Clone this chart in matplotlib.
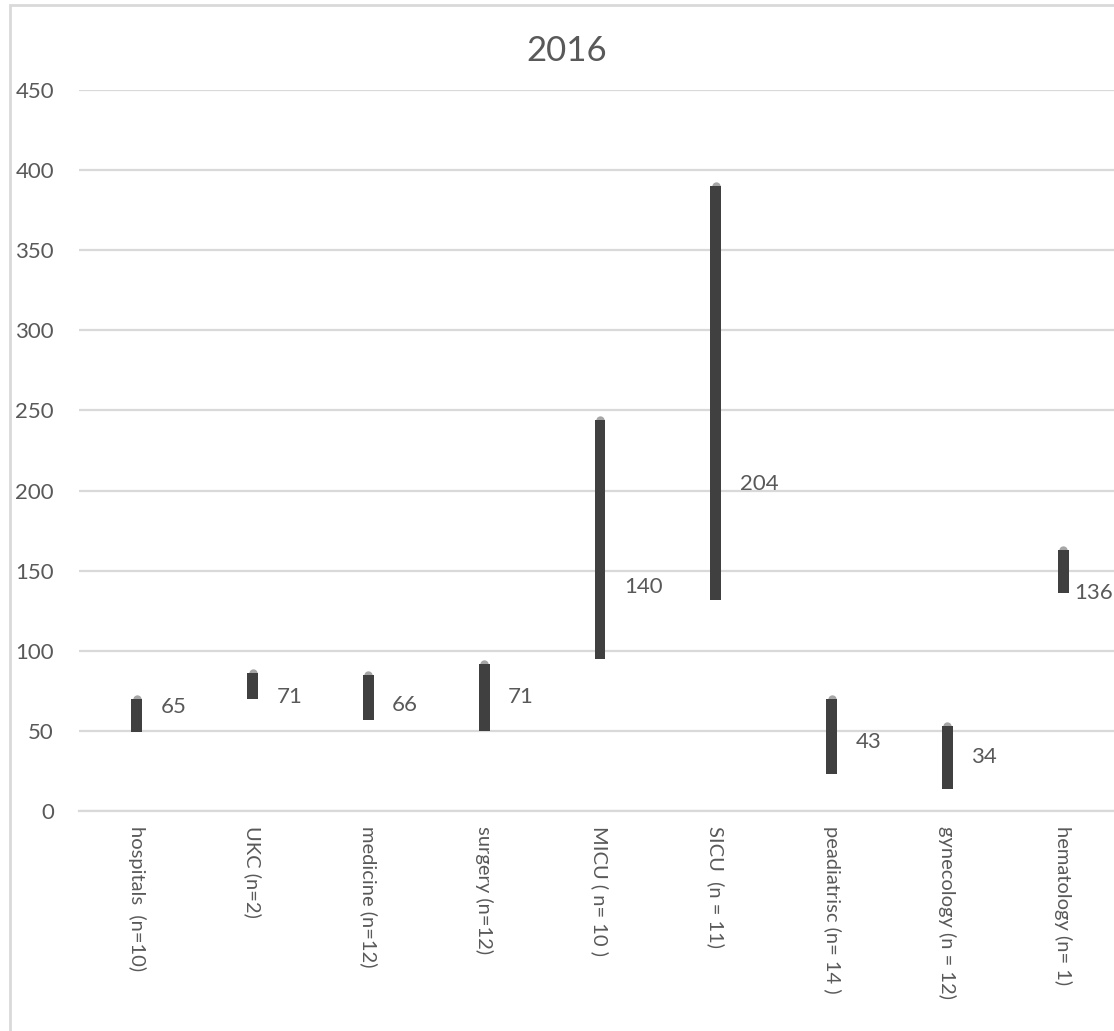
import matplotlib
matplotlib.use("Agg")
import matplotlib.pyplot as plt
from matplotlib.patches import Rectangle

categories = ["hospitals  (n=10)", "UKC (n=2)", "medicine (n=12)", "surgery (n=12)",
              "MICU ( n= 10 )", "SICU  (n = 11)", "peadiatrisc (n= 14 )",
              "gynecology (n = 12)", "hematology (n= 1)"]
low_values = [49, 70, 57, 50, 95, 132, 23, 14, 136]
high_values = [70, 86, 85, 92, 244, 390, 70, 53, 163]
label_values = [65, 71, 66, 71, 140, 204, 43, 34, 136]
y_ticks = [0, 50, 100, 150, 200, 250, 300, 350, 400, 450]
title = "2016"

plt.rcParams['font.family'] = ['Lato', 'DejaVu Sans']
text_color = '#595959'
grid_color = '#d9d9d9'

W, H = 1114, 1031
fig = plt.figure(figsize=(W / 100, H / 100), dpi=100)
fig.patch.set_facecolor('white')

# outer chart border (cropped on right and bottom)
fig.patches.append(Rectangle((10 / W, -0.2), 1.2, 1.2 - 5 / H,
                             transform=fig.transFigure, fill=False,
                             edgecolor=grid_color, linewidth=2))

ax = fig.add_axes([79 / W, (H - 811) / H, 1042 / W, 721 / H])
x = list(range(len(categories)))
heights = [h - l for h, l in zip(high_values, low_values)]
ax.bar(x, heights, bottom=low_values, width=0.095, color='#404040', zorder=3)
ax.plot(x, high_values, linestyle='none', marker='o', markersize=6,
        markeredgewidth=0, color='#a6a6a6', zorder=2.9)

for i, v in enumerate(label_values):
    dx = 0.205 if i < len(categories) - 1 else 0.095
    ax.text(i + dx, v, str(v), ha='left', va='center', fontsize=16,
            color=text_color, zorder=5)

ax.set_xlim(-0.5, len(categories) - 0.5)
ax.set_ylim(0, 450)
ax.set_yticks(y_ticks)
ax.set_yticklabels([str(t) for t in y_ticks])
ax.set_xticks(x)
ax.set_xticklabels(categories, rotation=270, ha='center', va='top')
ax.tick_params(axis='y', length=0, pad=18, labelsize=16, labelcolor=text_color)
ax.tick_params(axis='x', length=0, pad=11, labelsize=14.5, labelcolor=text_color)
ax.grid(axis='y', color=grid_color, linewidth=1.6, zorder=0)
ax.set_axisbelow(True)
for s in ['top', 'right', 'left']:
    ax.spines[s].set_visible(False)
ax.spines['bottom'].set_color(grid_color)
ax.spines['bottom'].set_linewidth(1.6)

fig.text(567 / W, 1 - 51 / H, title, ha='center', va='center', fontsize=25,
         color=text_color)

fig.savefig('out.png', dpi=100)
